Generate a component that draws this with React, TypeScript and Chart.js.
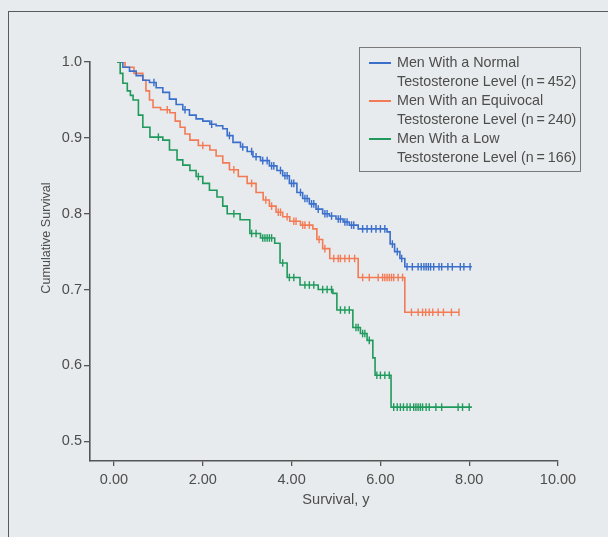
import React, { useEffect, useRef } from "react";
import { Chart, registerables } from "chart.js";

Chart.register(...registerables);

const FONT = '"Liberation Sans", Arial, Helvetica, sans-serif';
const TEXT = "#4d4d4d";
const AXIS = "#555555";

const seriesLabels = [
  ["Men With a Normal", "Testosterone Level (n\u2009=\u2009452)"],
  ["Men With an Equivocal", "Testosterone Level (n\u2009=\u2009240)"],
  ["Men With a Low", "Testosterone Level (n\u2009=\u2009166)"],
];
const seriesColors = ["#3a6fcb", "#f27b55", "#1f9a5c"];

const xTitle = "Survival, y";
const yTitle = "Cumulative Survival";
const xTicks = [0, 2, 4, 6, 8, 10];
const yTicks = [0.5, 0.6, 0.7, 0.8, 0.9, 1.0];

// Normal testosterone (blue)
const normalTime = [0.07, 0.2, 0.35, 0.5, 0.65, 0.8, 0.95, 1.1, 1.25, 1.4, 1.55, 1.7, 1.85, 2.0, 2.16, 2.3, 2.45, 2.55, 2.68, 2.85, 3.0, 3.13, 3.3, 3.5, 3.67, 3.8, 3.95, 4.12, 4.25, 4.4, 4.55, 4.7, 4.85, 5.0, 5.16, 5.3, 5.5, 6.15, 6.22, 6.32, 6.44, 6.55, 8.06];
const normalSurv = [1.0, 0.993, 0.988, 0.982, 0.976, 0.973, 0.966, 0.96, 0.951, 0.944, 0.937, 0.93, 0.925, 0.922, 0.918, 0.916, 0.912, 0.903, 0.894, 0.888, 0.882, 0.875, 0.87, 0.863, 0.857, 0.85, 0.84, 0.828, 0.82, 0.813, 0.806, 0.8, 0.797, 0.793, 0.789, 0.785, 0.78, 0.776, 0.76, 0.75, 0.741, 0.73, 0.73];
const normalCensor = [0.9, 1.6, 2.2, 2.6, 2.9, 3.1, 3.2, 3.35, 3.45, 3.55, 3.6, 3.75, 3.85, 3.9, 4.0, 4.05, 4.2, 4.3, 4.35, 4.45, 4.5, 4.6, 4.75, 4.8, 4.9, 5.05, 5.1, 5.2, 5.25, 5.35, 5.4, 5.6, 5.7, 5.8, 5.9, 6.0, 6.1, 6.27, 6.38, 6.48, 6.6, 6.72, 6.85, 6.92, 6.98, 7.03, 7.08, 7.13, 7.2, 7.32, 7.38, 7.52, 7.62, 7.8, 7.88, 8.02];

// Equivocal testosterone (orange)
const equivTime = [0.07, 0.25, 0.45, 0.65, 0.72, 0.8, 0.88, 1.05, 1.26, 1.38, 1.49, 1.6, 1.71, 1.9, 2.16, 2.3, 2.45, 2.6, 2.8, 3.0, 3.2, 3.36, 3.5, 3.65, 3.8, 3.96, 4.2, 4.48, 4.57, 4.7, 4.86, 5.5, 6.55, 7.77];
const equivSurv = [1.0, 0.993, 0.985, 0.976, 0.962, 0.95, 0.94, 0.937, 0.933, 0.922, 0.914, 0.905, 0.897, 0.89, 0.884, 0.876, 0.867, 0.858, 0.849, 0.84, 0.828, 0.818, 0.81, 0.802, 0.796, 0.79, 0.785, 0.78, 0.766, 0.754, 0.741, 0.716, 0.67, 0.67];
const equivCensor = [1.2, 2.0, 2.7, 3.1, 3.42, 3.55, 3.7, 3.75, 3.9, 4.05, 4.1, 4.25, 4.3, 4.4, 4.62, 4.75, 4.95, 5.05, 5.1, 5.2, 5.3, 5.42, 5.6, 5.75, 5.95, 6.05, 6.1, 6.15, 6.2, 6.25, 6.3, 6.4, 6.5, 6.7, 6.85, 6.95, 7.02, 7.1, 7.18, 7.3, 7.42, 7.6, 7.77];

// Low testosterone (green)
const lowTime = [0.07, 0.14, 0.2, 0.3, 0.37, 0.43, 0.55, 0.65, 0.81, 1.1, 1.25, 1.42, 1.55, 1.71, 1.85, 2.0, 2.15, 2.32, 2.45, 2.55, 2.84, 3.06, 3.3, 3.62, 3.74, 3.9, 4.19, 4.6, 4.93, 5.02, 5.38, 5.55, 5.7, 5.83, 5.88, 6.24, 8.06];
const lowSurv = [1.0, 0.985, 0.972, 0.962, 0.956, 0.95, 0.93, 0.914, 0.901, 0.897, 0.884, 0.871, 0.864, 0.857, 0.849, 0.84, 0.831, 0.822, 0.81, 0.8, 0.792, 0.774, 0.768, 0.761, 0.735, 0.716, 0.706, 0.7, 0.695, 0.673, 0.65, 0.642, 0.633, 0.61, 0.587, 0.545, 0.545];
const lowCensor = [1.0, 1.9, 2.7, 3.1, 3.2, 3.35, 3.4, 3.45, 3.5, 3.55, 3.8, 3.95, 4.05, 4.3, 4.4, 4.5, 4.7, 4.8, 4.9, 5.1, 5.2, 5.3, 5.45, 5.5, 5.6, 5.65, 5.75, 5.92, 6.0, 6.1, 6.2, 6.3, 6.38, 6.45, 6.52, 6.6, 6.67, 6.75, 6.8, 6.85, 6.9, 6.95, 7.03, 7.1, 7.25, 7.38, 7.75, 7.85, 8.0];

const seriesTimes = [normalTime, equivTime, lowTime];
const seriesSurvs = [normalSurv, equivSurv, lowSurv];
const seriesCensors = [normalCensor, equivCensor, lowCensor];

function survAt(times: number[], survs: number[], t: number) {
  let v = survs[0];
  for (let i = 0; i < times.length; i++) {
    if (times[i] <= t) v = survs[i];
  }
  return v;
}

const axisTitlePlugin = {
  id: "axisTitles",
  afterDraw(chart: any) {
    const { ctx, scales, chartArea } = chart;
    ctx.save();
    ctx.fillStyle = TEXT;
    ctx.textAlign = "center";
    ctx.textBaseline = "middle";
    ctx.font = `14.6px ${FONT}`;
    ctx.fillText(xTitle, scales.x.getPixelForValue(5), chartArea.bottom + 39);
    ctx.translate(chartArea.left - 43, chartArea.top + 176);
    ctx.rotate(-Math.PI / 2);
    ctx.font = `12.6px ${FONT}`;
    ctx.fillText(yTitle, 0, 0);
    ctx.restore();
  },
};

function KMChart() {
  const ref = useRef<HTMLCanvasElement | null>(null);
  useEffect(() => {
    if (!ref.current) return;
    const datasets: any[] = [];
    [2, 0, 1].forEach((i) => {
      datasets.push({
        type: "line",
        label: seriesLabels[i].join(" "),
        data: seriesTimes[i].map((t, k) => ({ x: t, y: seriesSurvs[i][k] })),
        stepped: true,
        borderColor: seriesColors[i],
        borderWidth: 1.6,
        pointRadius: 0,
        fill: false,
      });
      datasets.push({
        type: "scatter",
        label: seriesLabels[i].join(" ") + " censored",
        data: seriesCensors[i].map((t) => ({ x: t, y: survAt(seriesTimes[i], seriesSurvs[i], t) })),
        pointStyle: "line",
        rotation: 90,
        radius: 3.8,
        borderColor: seriesColors[i],
        backgroundColor: seriesColors[i],
        borderWidth: 1.4,
        showLine: false,
      });
    });
    const chart = new Chart(ref.current, {
      type: "scatter",
      data: { datasets },
      plugins: [axisTitlePlugin],
      options: {
        animation: false,
        responsive: false,
        layout: { padding: { left: 0, top: 62, right: 50, bottom: 0 } },
        plugins: { legend: { display: false }, tooltip: { enabled: false } },
        scales: {
          x: {
            type: "linear",
            min: -0.54,
            max: 10,
            afterBuildTicks: (axis: any) => {
              axis.ticks = xTicks.map((v) => ({ value: v }));
            },
            afterFit: (scale: any) => {
              scale.height = 76;
            },
            ticks: {
              callback: (v: any) => Number(v).toFixed(2),
              color: TEXT,
              font: { family: FONT, size: 14.5 },
              padding: 5,
              maxRotation: 0,
            },
            grid: { drawOnChartArea: false, drawTicks: true, tickLength: 5, color: AXIS, lineWidth: 1.3 },
            border: { display: true, color: AXIS, width: 1.6 },
          },
          y: {
            type: "linear",
            min: 0.474,
            max: 1.0,
            afterBuildTicks: (axis: any) => {
              axis.ticks = yTicks.map((v) => ({ value: v }));
            },
            afterFit: (scale: any) => {
              scale.width = 90;
            },
            ticks: {
              callback: (v: any) => Number(v).toFixed(1),
              color: TEXT,
              font: { family: FONT, size: 14.5 },
              padding: 2,
            },
            grid: { drawOnChartArea: false, drawTicks: true, tickLength: 6, color: AXIS, lineWidth: 1.3 },
            border: { display: true, color: AXIS, width: 1.6 },
          },
        },
      },
    } as any);
    return () => chart.destroy();
  }, []);
  return (
    <canvas
      ref={ref}
      width={608}
      height={537}
      style={{ position: "absolute", left: 0, top: 0, width: 608, height: 537 }}
    />
  );
}

function Legend() {
  return (
    <div
      style={{
        position: "absolute",
        left: 359,
        top: 47,
        width: 222,
        height: 125,
        boxSizing: "border-box",
        border: "1px solid #7a7a7a",
        fontFamily: FONT,
        fontSize: 14.3,
        lineHeight: "19px",
        color: TEXT,
        paddingTop: 5,
      }}
    >
      {seriesLabels.map((lines, i) => (
        <div key={i} style={{ position: "relative", paddingLeft: 37, whiteSpace: "nowrap" }}>
          <div
            style={{
              position: "absolute",
              left: 9,
              top: 9,
              width: 22,
              height: 2,
              background: seriesColors[i],
            }}
          />
          {lines.map((l, k) => (
            <div key={k}>{l}</div>
          ))}
        </div>
      ))}
    </div>
  );
}

export default function App() {
  return (
    <div
      style={{
        position: "fixed",
        left: 0,
        top: 0,
        width: 608,
        height: 537,
        overflow: "hidden",
        background: "#e8ebed",
      }}
    >
      <div
        style={{
          position: "absolute",
          left: 8,
          top: 11,
          width: 700,
          height: 700,
          border: "1.5px solid #5a5a5a",
        }}
      />
      <KMChart />
      <Legend />
    </div>
  );
}
